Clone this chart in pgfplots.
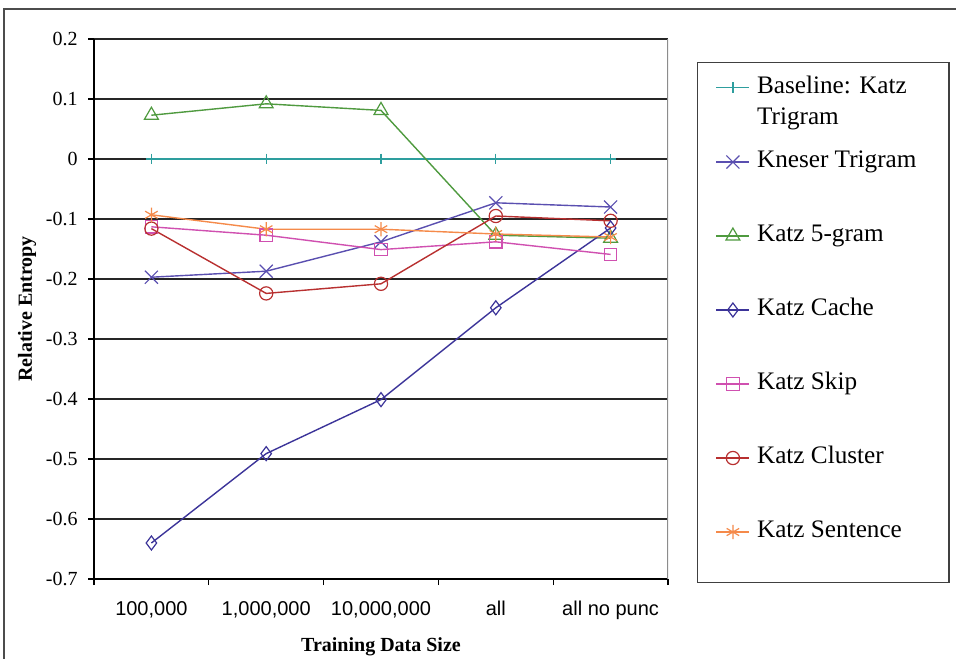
\documentclass[border=0pt]{standalone}
\usepackage{fontspec}
\setmainfont{Liberation Serif}
\setsansfont{Liberation Sans}
\usepackage{pgfplots}
\pgfplotsset{compat=1.18}
\definecolor{cBase}{HTML}{2E9E9E}
\definecolor{cKneser}{HTML}{5A4FB0}
\definecolor{cFive}{HTML}{4F9A3F}
\definecolor{cCache}{HTML}{3C3499}
\definecolor{cSkip}{HTML}{D050B0}
\definecolor{cCluster}{HTML}{B83030}
\definecolor{cSent}{HTML}{F58A4A}
% #1 = half height of the legend row
\newcommand\LE[2]{\raisebox{\dimexpr#1-3.4pt\relax}[\dimexpr2\dimexpr#1\relax\relax][0pt]{\makebox[87pt][l]{#2}}}
\begin{document}
\begin{tikzpicture}
\path[use as bounding box] (0,0) rectangle (478pt,329pt);
\draw[line width=0.8pt, black!70] (2pt,-1pt) -- (2pt,324.5pt) -- (479pt,324.5pt);
\begin{axis}[
  at={(47pt,39.5pt)}, anchor=south west,
  scale only axis, width=287pt, height=270pt,
  xmin=-0.5, xmax=4.5, ymin=-0.7, ymax=0.2,
  axis lines=left, axis line style={-, black, line width=0.7pt},
  xtick={-0.5,0.5,1.5,2.5,3.5,4.5}, xticklabels={},
  extra x ticks={0,1,2,3,4},
  extra x tick labels={{100,000},{1,000,000},{10,000,000},all,all no punc},
  extra x tick style={major tick length=0pt, xticklabel style={font=\sffamily\fontsize{10}{12}\selectfont, yshift=-7.5pt}},
  ytick={-0.7,-0.6,-0.5,-0.4,-0.3,-0.2,-0.1,0,0.1,0.2},
  yticklabels={-0.7,-0.6,-0.5,-0.4,-0.3,-0.2,-0.1,0,0.1,0.2},
  yticklabel style={font=\fontsize{10}{12}\selectfont, xshift=-1.7pt},
  tick align=outside, major tick length=3pt,
  tick style={black, line width=0.6pt},
  ymajorgrids, grid style={black!85, line width=0.6pt},
  xlabel={Training Data Size},
  xlabel style={at={(axis description cs:0.5,-0.1250)}, anchor=center, font=\bfseries\fontsize{10}{12}\selectfont},
  ylabel={Relative Entropy},
  ylabel style={at={(axis description cs:-0.1167,0.5)}, anchor=center, font=\bfseries\fontsize{10}{12}\selectfont},
  legend cell align=left,
  legend image code/.code={\draw[mark repeat=2,mark phase=2] plot coordinates {(0pt,0pt) (8.25pt,0pt) (16.5pt,0pt)};},
  legend style={at={(axis description cs:1,1)}, anchor=north west, xshift=14.5pt, yshift=-11.5pt,
    draw=black!75, line width=0.7pt, inner xsep=9pt, inner ysep=0.15pt, row sep=0pt, column sep=3.5pt,
    nodes={inner sep=0pt}, font=\fontsize{12.6}{15}\selectfont},
]
\addplot[cBase, line width=0.7pt, mark=+, mark size=2.7pt, mark options={solid,line width=0.6pt}]
  coordinates {(0,0) (1,0) (2,0) (3,0) (4,0)};
\addlegendentry{\LE{11.6pt}{Baseline: Katz}}
\addlegendimage{empty legend}
\addlegendentry{\LE{2.4pt}{Trigram}}
\addplot[cKneser, line width=0.7pt, mark=x, mark size=4.6pt, mark options={solid,line width=0.6pt}]
  coordinates {(0,-0.197) (1,-0.187) (2,-0.138) (3,-0.073) (4,-0.080)};
\addlegendentry{\LE{17.75pt}{Kneser Trigram}}
\addplot[cFive, line width=0.7pt, mark=triangle, mark size=4pt, mark options={solid,line width=0.6pt}]
  coordinates {(0,0.073) (1,0.092) (2,0.081) (3,-0.127) (4,-0.132)};
\addlegendentry{\LE{17.75pt}{Katz 5-gram}}
\addplot[cCache, line width=0.7pt, mark=diamond, mark size=3.5pt, mark options={solid,line width=0.6pt}]
  coordinates {(0,-0.640) (1,-0.491) (2,-0.401) (3,-0.248) (4,-0.115)};
\addlegendentry{\LE{17.75pt}{Katz Cache}}
\addplot[cSkip, line width=0.7pt, mark=square, mark size=3.1pt, mark options={solid,line width=0.6pt}]
  coordinates {(0,-0.113) (1,-0.127) (2,-0.151) (3,-0.138) (4,-0.159)};
\addlegendentry{\LE{17.75pt}{Katz Skip}}
\addplot[cCluster, line width=0.7pt, mark=o, mark size=3.3pt, mark options={solid,line width=0.6pt}]
  coordinates {(0,-0.116) (1,-0.224) (2,-0.208) (3,-0.095) (4,-0.103)};
\addlegendentry{\LE{17.75pt}{Katz Cluster}}
\addplot[cSent, line width=0.7pt, mark=asterisk, mark size=3.6pt, mark options={solid,line width=0.6pt}]
  coordinates {(0,-0.093) (1,-0.117) (2,-0.117) (3,-0.125) (4,-0.130)};
\addlegendentry{\LE{17.75pt}{Katz Sentence}}
\addlegendimage{empty legend}
\addlegendentry{\rule{0pt}{5.2pt}}
\draw[black!45, line width=0.6pt] (rel axis cs:1,0) -- (rel axis cs:1,1);
\end{axis}
\end{tikzpicture}
\end{document}
